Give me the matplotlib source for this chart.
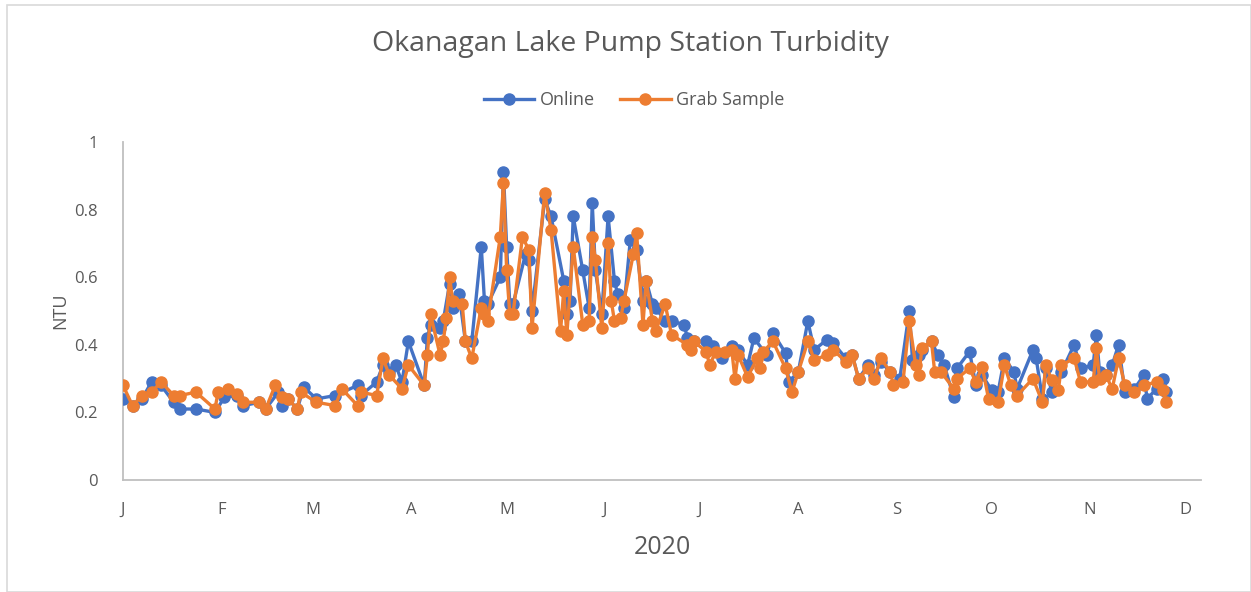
import numpy as np
import pandas as pd
import matplotlib
matplotlib.use("Agg")
import matplotlib.pyplot as plt
from matplotlib.patches import Rectangle

plt.rcParams['font.family'] = ['Open Sans', 'DejaVu Sans']

# days since 2020-01-01
online_day = [0, 3, 6, 9, 12, 16, 18, 23, 29, 32, 36, 38, 43, 45, 49, 50, 52, 55, 57, 61,
              67, 74, 75, 80, 82, 84, 86, 88, 90, 95, 96, 97, 100, 101, 103, 104, 106, 108, 110,
              113, 114, 115, 119, 120, 121, 122, 123, 127, 128, 129, 133, 135, 139, 140, 141,
              142, 145, 147, 148, 149, 151, 153, 155, 156, 158, 160, 162, 164, 165, 167, 168,
              171, 173, 177, 178, 180, 184, 186, 189, 192, 194, 197, 199, 203, 205, 209, 210,
              213, 216, 218, 222, 224, 228, 230, 232, 235, 237, 239, 242, 245, 248, 249, 251,
              252, 255, 257, 259, 262, 263, 267, 269, 271, 274, 276, 278, 281, 282, 287, 288,
              290, 291, 293, 296, 300, 302, 306, 307, 308, 310, 312, 314, 316, 319, 322, 323,
              326, 328, 329]
online_ntu = [0.24, 0.22, 0.24, 0.29, 0.28, 0.23, 0.21, 0.21, 0.20, 0.245, 0.25, 0.22, 0.23, 0.21,
              0.26, 0.22, 0.24, 0.21, 0.275, 0.24,
              0.25, 0.28, 0.25, 0.29, 0.34, 0.32, 0.34, 0.29, 0.41, 0.28, 0.42, 0.46, 0.45, 0.47,
              0.58, 0.51, 0.55, 0.41, 0.41,
              0.69, 0.53, 0.52, 0.60, 0.91, 0.69, 0.52, 0.52, 0.67, 0.65, 0.50, 0.83, 0.78, 0.59,
              0.49, 0.53,
              0.78, 0.62, 0.51, 0.82, 0.62, 0.49, 0.78, 0.59, 0.55, 0.51, 0.71, 0.68, 0.53, 0.59,
              0.52, 0.51,
              0.47, 0.47, 0.46, 0.42, 0.41, 0.41, 0.395, 0.36, 0.395, 0.385, 0.34, 0.42, 0.37,
              0.435, 0.375, 0.29,
              0.32, 0.47, 0.385, 0.415, 0.405, 0.36, 0.37, 0.30, 0.34, 0.31, 0.35, 0.32, 0.30,
              0.50, 0.355, 0.37,
              0.385, 0.41, 0.37, 0.34, 0.245, 0.33, 0.38, 0.28, 0.31, 0.265, 0.26, 0.36, 0.32,
              0.27, 0.385, 0.36,
              0.24, 0.33, 0.26, 0.32, 0.40, 0.33, 0.34, 0.43, 0.32, 0.31, 0.34, 0.40, 0.26, 0.27,
              0.31, 0.24,
              0.27, 0.30, 0.26]

grab_day = [0, 3, 6, 9, 12, 16, 18, 23, 29, 30, 33, 36, 38, 43, 45, 48, 50, 52, 55, 56, 61,
            67, 69, 74, 75, 80, 82, 84, 88, 90, 95, 96, 97, 100, 101, 102, 103, 104, 107, 108,
            110, 113, 114, 115, 119, 120, 121, 122, 123, 126, 128, 129, 133, 135, 138, 139,
            140, 142, 145, 147, 148, 149, 151, 153, 154, 155, 157, 158, 161, 162, 164, 165,
            167, 168, 171, 173, 178, 179, 180, 184, 185, 187, 190, 192, 193, 194, 197, 200,
            201, 202, 205, 209, 211, 213, 216, 218, 222, 224, 228, 230, 232, 235, 237, 239,
            242, 243, 246, 248, 250, 251, 252, 255, 256, 258, 262, 263, 267, 269, 271, 273,
            276, 278, 280, 282, 287, 290, 291, 293, 295, 296, 300, 302, 306, 307, 308, 310,
            312, 314, 316, 319, 322, 326, 328, 329]
grab_ntu = [0.28, 0.22, 0.25, 0.26, 0.29, 0.25, 0.25, 0.26, 0.21, 0.26, 0.27, 0.255, 0.23, 0.23,
            0.21, 0.28, 0.245, 0.24, 0.21, 0.26, 0.23,
            0.22, 0.27, 0.22, 0.26, 0.25, 0.36, 0.31, 0.27, 0.34, 0.28, 0.37, 0.49, 0.37, 0.41,
            0.48, 0.60, 0.53, 0.52, 0.41,
            0.36, 0.51, 0.49, 0.47, 0.72, 0.88, 0.62, 0.49, 0.49, 0.72, 0.68, 0.45, 0.85, 0.74,
            0.44, 0.56,
            0.43, 0.69, 0.46, 0.47, 0.72, 0.65, 0.45, 0.70, 0.53, 0.47, 0.48, 0.53, 0.67, 0.73,
            0.46, 0.59,
            0.47, 0.44, 0.52, 0.43, 0.40, 0.385, 0.41, 0.38, 0.34, 0.38, 0.38, 0.385, 0.30, 0.37,
            0.305, 0.36,
            0.33, 0.38, 0.41, 0.33, 0.26, 0.32, 0.41, 0.355, 0.37, 0.385, 0.35, 0.37, 0.30, 0.33,
            0.30, 0.36,
            0.32, 0.28, 0.29, 0.47, 0.34, 0.31, 0.39, 0.41, 0.32, 0.32, 0.27, 0.30, 0.33, 0.29,
            0.335, 0.24,
            0.23, 0.34, 0.28, 0.25, 0.30, 0.23, 0.34, 0.295, 0.265, 0.34, 0.36, 0.29, 0.29, 0.39,
            0.30, 0.31,
            0.27, 0.36, 0.28, 0.26, 0.28, 0.29, 0.265, 0.23]

month_letters = ['J', 'F', 'M', 'A', 'M', 'J', 'J', 'A', 'S', 'O', 'N', 'D']

start = pd.Timestamp('2020-01-01')
online_dates = start + pd.to_timedelta(online_day, unit='D')
grab_dates = start + pd.to_timedelta(grab_day, unit='D')

blue = '#4472C4'
orange = '#ED7D31'
grey_txt = '#595959'

fig = plt.figure(figsize=(12.51, 5.92), dpi=100)
ax = fig.add_axes([123 / 1251, 1 - 480 / 592, (1201 - 123) / 1251, (480 - 142) / 592])

# chart frame
fig.patches.append(Rectangle((7 / 1251, 0), 1 - 7 / 1251, 1 - 4.5 / 592, transform=fig.transFigure,
                             fill=False, edgecolor='#D9D9D9', linewidth=1.2))

ax.plot(online_dates, online_ntu, color=blue, lw=2.4, marker='o', ms=8, label='Online', zorder=3)
ax.plot(grab_dates, grab_ntu, color=orange, lw=2.4, marker='o', ms=8, label='Grab Sample', zorder=4)

ax.set_ylim(0, 1)
ax.set_yticks(np.arange(0, 1.01, 0.2))
ax.set_yticklabels(['0', '0.2', '0.4', '0.6', '0.8', '1'])
ax.set_xlim(start, start + pd.Timedelta(days=340))
month_starts = pd.date_range('2020-01-01', '2020-12-01', freq='MS')
ax.set_xticks(month_starts)
ax.set_xticklabels(month_letters)

for s in ['top', 'right']:
    ax.spines[s].set_visible(False)
for s in ['left', 'bottom']:
    ax.spines[s].set_color('#BFBFBF')
    ax.spines[s].set_linewidth(1.3)
ax.tick_params(length=0, labelsize=12, colors=grey_txt, pad=16)
ax.tick_params(axis='y', pad=18)

ax.set_ylabel('NTU', fontsize=13, color=grey_txt, labelpad=4)
ax.set_xlabel('2020', fontsize=18, color=grey_txt, labelpad=12)

fig.text(630 / 1251, 1 - 44 / 592, 'Okanagan Lake Pump Station Turbidity', ha='center', va='center',
         fontsize=20.5, color=grey_txt)

ax.legend(loc='center', bbox_to_anchor=(634 / 1251, 1 - 100 / 592), bbox_transform=fig.transFigure,
          ncol=2, frameon=False, fontsize=13, labelcolor=grey_txt, handlelength=2.8,
          columnspacing=1.4, handletextpad=0.3)

fig.savefig('out.png', dpi=100)
